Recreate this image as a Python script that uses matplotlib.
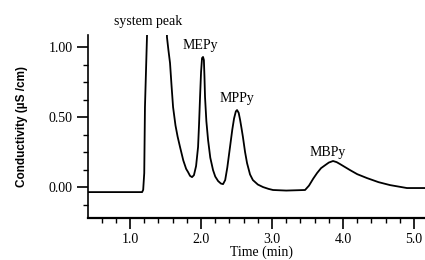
import numpy as np
import matplotlib
matplotlib.use("Agg")
import matplotlib.pyplot as plt
from matplotlib.ticker import MultipleLocator

# chromatogram trace (time in min, conductivity in uS/cm)
time = [0.40, 1.17, 1.185, 1.20, 1.21, 1.24, 1.26, 1.50, 1.52, 1.54, 1.563,
        1.585, 1.606, 1.64, 1.67, 1.704, 1.75, 1.79, 1.817, 1.845, 1.873,
        1.90, 1.93, 1.958, 1.972, 1.986, 2.0, 2.014, 2.028, 2.04, 2.048,
        2.056, 2.075, 2.099, 2.13, 2.169, 2.20, 2.24, 2.28, 2.31, 2.34,
        2.37, 2.408, 2.44, 2.465, 2.49, 2.507, 2.53, 2.55, 2.57, 2.59, 2.62,
        2.648, 2.69, 2.73, 2.80, 2.873, 2.95, 3.014, 3.2, 3.465, 3.52, 3.58,
        3.634, 3.69, 3.75, 3.80, 3.859, 3.91, 3.958, 4.03, 4.099, 4.2,
        4.338, 4.5, 4.662, 4.90, 5.16]
conductivity = [-0.036, -0.036, -0.02, 0.10, 0.57, 1.10, 2.0, 2.0, 1.07,
                0.98, 0.886, 0.72, 0.571, 0.44, 0.36, 0.286, 0.19, 0.13,
                0.107, 0.08, 0.071, 0.085, 0.15, 0.286, 0.45, 0.643, 0.82,
                0.921, 0.929, 0.907, 0.79, 0.643, 0.47, 0.336, 0.21, 0.121,
                0.075, 0.043, 0.025, 0.021, 0.05, 0.14, 0.286, 0.41, 0.49,
                0.54, 0.55, 0.53, 0.48, 0.42, 0.357, 0.25, 0.171, 0.09, 0.05,
                0.018, 0.0, -0.013, -0.021, -0.025, -0.021, 0.01, 0.06, 0.1,
                0.135, 0.157, 0.175, 0.186, 0.178, 0.164, 0.142, 0.121,
                0.092, 0.064, 0.035, 0.014, -0.007, -0.007]

peak_names = ["system peak", "MEPy", "MPPy", "MBPy"]
peak_pos = [(1.254, 1.18), (1.986, 1.014), (2.507, 0.629), (3.789, 0.25)]

xticks = [1.0, 2.0, 3.0, 4.0, 5.0]
yticks = [0.0, 0.5, 1.0]

serif = "Liberation Serif"

fig = plt.figure(figsize=(4.25, 2.6), dpi=100)
ax = fig.add_axes([0.2071, 0.1615, 0.793, 0.704])

ax.plot(time, conductivity, color="black", lw=1.3)

for name, (px, py) in zip(peak_names, peak_pos):
    ax.text(px, py, name, ha="center", va="center", fontsize=10,
            family=serif, clip_on=False)

ax.set_xlim(0.408, 5.155)
ax.set_ylim(-0.221, 1.086)

ax.spines["top"].set_visible(False)
ax.spines["right"].set_visible(False)
ax.spines["left"].set_linewidth(1.2)
ax.spines["bottom"].set_linewidth(1.6)

ax.set_xticks(xticks)
ax.set_xticklabels([f"{v:.1f}" for v in xticks], family=serif, fontsize=10)
ax.set_yticks(yticks)
ax.set_yticklabels([f"{v:.2f}" for v in yticks], family=serif, fontsize=10)
ax.xaxis.set_minor_locator(MultipleLocator(0.2))
ax.yaxis.set_minor_locator(MultipleLocator(0.125))
ax.tick_params(which="major", direction="out", length=8, width=1.2, pad=3)
ax.tick_params(which="minor", direction="out", length=3.5, width=1.0)

ax.set_xlabel("Time (min)", family=serif, fontsize=10)
ax.xaxis.set_label_coords(0.516, -0.153)
ax.set_ylabel("Conductivity (\u00b5S /cm)", family="Liberation Sans",
              fontweight="bold", fontsize=8.5)
ax.yaxis.set_label_coords(-0.178, 0.5)

fig.savefig("out.png", dpi=100)
